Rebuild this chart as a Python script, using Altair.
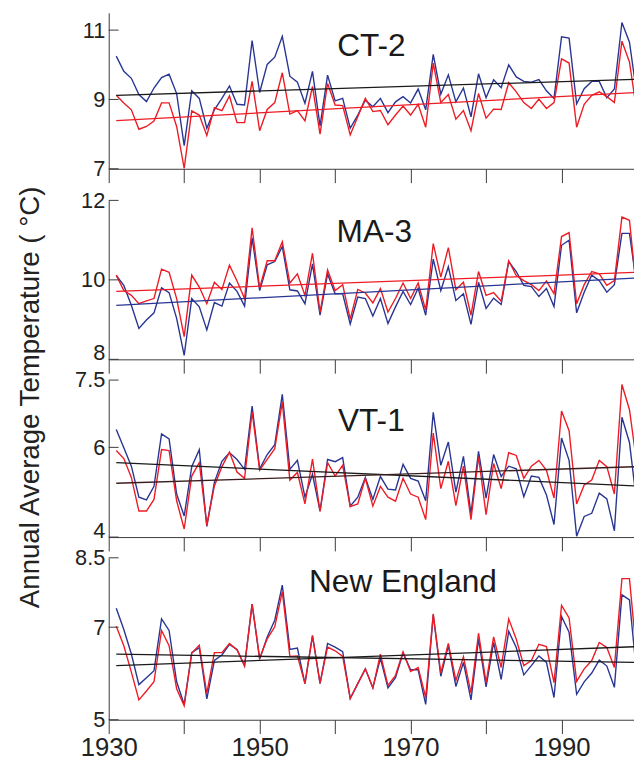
import altair as alt
import pandas as pd

years = list(range(1931, 2001))

ct2_blue = [10.25, 9.81, 9.61, 9.14, 8.94, 9.33, 9.63, 9.73, 9.17, 7.67,
            9.25, 9.03, 8.17, 8.70, 9.03, 9.39, 8.86, 8.84, 10.70, 9.20,
            10.01, 10.22, 10.82, 9.67, 9.50, 8.89, 9.81, 8.24, 9.70, 8.96,
            9.03, 8.17, 8.55, 8.98, 8.79, 9.03, 8.62, 8.93, 9.08, 8.90,
            9.30, 8.70, 10.30, 9.15, 9.71, 8.93, 9.33, 8.50, 9.74, 9.05,
            9.57, 9.34, 10.00, 9.65, 9.52, 9.50, 9.57, 9.25, 9.03, 10.81,
            10.77, 8.87, 9.31, 9.52, 9.52, 9.05, 9.30, 11.22, 10.65, 9.1]
ct2_red = [9.12, 8.90, 8.70, 8.14, 8.22, 8.38, 8.90, 8.90, 8.22, 7.01,
           8.67, 8.55, 7.96, 8.76, 8.68, 9.10, 8.33, 8.33, 9.52, 8.10,
           8.71, 8.91, 9.77, 8.58, 8.68, 8.38, 9.38, 8.00, 9.46, 8.84,
           8.82, 7.98, 8.50, 9.03, 8.65, 8.68, 8.27, 8.55, 8.81, 8.55,
           8.86, 8.20, 10.05, 8.91, 9.14, 8.43, 8.68, 8.10, 9.17, 8.46,
           8.72, 8.71, 9.48, 9.22, 8.91, 8.74, 9.01, 8.74, 8.91, 10.17,
           10.05, 8.20, 8.86, 9.12, 9.22, 9.08, 8.91, 10.68, 10.08, 8.6]

ma3_blue = [10.11, 9.86, 9.36, 8.78, 8.99, 9.17, 9.80, 9.68, 9.03, 8.10,
            9.53, 9.32, 8.74, 9.43, 9.34, 9.92, 9.71, 9.34, 11.06, 9.73,
            10.38, 10.46, 10.84, 9.75, 9.72, 9.40, 10.40, 9.11, 10.15, 9.65,
            9.65, 8.89, 9.57, 9.53, 9.09, 9.53, 8.90, 9.32, 9.71, 9.38,
            9.79, 9.11, 10.52, 9.73, 10.33, 9.48, 9.65, 8.88, 9.94, 9.28,
            9.54, 9.38, 10.46, 10.21, 9.86, 9.83, 9.58, 9.78, 9.33, 10.87,
            11.00, 9.17, 9.69, 10.12, 9.98, 9.69, 9.88, 11.17, 11.17, 9.8]
ma3_red = [10.12, 9.73, 9.61, 9.40, 9.47, 9.53, 10.27, 10.19, 9.53, 8.57,
           10.12, 9.82, 9.40, 9.94, 9.76, 10.37, 9.97, 9.53, 11.31, 9.80,
           10.48, 10.48, 10.96, 9.92, 10.15, 9.61, 10.67, 9.19, 10.25, 9.73,
           9.88, 9.01, 9.76, 9.67, 9.42, 9.78, 9.19, 9.53, 9.92, 9.53,
           9.92, 9.24, 10.91, 10.07, 10.81, 9.75, 9.94, 9.11, 10.21, 9.61,
           9.68, 9.46, 10.48, 10.11, 9.98, 9.88, 9.73, 9.97, 9.65, 11.09,
           11.19, 9.40, 9.88, 10.21, 10.15, 9.86, 9.98, 11.58, 11.50, 9.6]

vt1_blue = [6.40, 5.99, 5.58, 4.89, 4.83, 5.13, 6.30, 6.19, 4.96, 4.47,
            5.57, 5.95, 4.24, 5.22, 5.69, 5.88, 5.73, 5.51, 6.92, 5.52,
            5.84, 6.06, 7.18, 5.51, 5.71, 4.89, 5.40, 4.58, 5.73, 5.68,
            5.77, 4.69, 4.89, 5.33, 4.84, 5.35, 5.07, 5.05, 5.62, 5.31,
            5.25, 4.81, 6.78, 5.60, 6.12, 5.00, 5.80, 4.52, 5.91, 4.87,
            5.84, 5.35, 5.58, 5.52, 4.90, 5.36, 5.33, 4.94, 4.28, 6.21,
            5.71, 4.02, 4.46, 4.53, 4.98, 4.85, 4.14, 6.67, 6.11, 4.7]
vt1_red = [5.93, 5.75, 5.33, 4.58, 4.58, 4.84, 5.95, 5.93, 4.81, 4.18,
           5.36, 5.66, 4.26, 5.14, 5.57, 5.89, 5.45, 5.31, 6.79, 5.49,
           5.73, 5.97, 7.01, 5.27, 5.44, 4.74, 5.74, 4.57, 5.66, 5.36,
           5.60, 4.68, 4.74, 5.31, 4.69, 5.13, 4.89, 4.80, 5.31, 4.96,
           4.89, 4.39, 6.32, 5.08, 5.69, 4.70, 5.58, 4.39, 5.79, 4.50,
           5.64, 5.08, 5.88, 5.82, 5.31, 5.58, 5.71, 5.49, 4.87, 6.81,
           6.37, 4.74, 5.16, 5.27, 5.71, 5.57, 4.96, 7.40, 6.84, 5.6]

ne_blue = [7.41, 6.95, 6.42, 5.76, 5.91, 6.06, 7.18, 6.93, 5.82, 5.33,
           6.45, 6.56, 5.45, 6.28, 6.40, 6.63, 6.52, 6.16, 7.50, 6.31,
           6.79, 7.15, 7.91, 6.52, 6.55, 5.78, 6.82, 5.78, 6.65, 6.57,
           6.47, 5.46, 5.78, 6.10, 5.69, 6.33, 5.69, 5.91, 6.44, 6.08,
           6.08, 5.33, 7.27, 5.94, 6.60, 5.72, 6.24, 5.43, 6.74, 5.71,
           6.67, 5.87, 6.91, 6.56, 5.97, 6.17, 6.38, 6.24, 5.48, 7.23,
           6.89, 5.55, 5.82, 6.01, 6.29, 6.16, 5.70, 7.70, 7.59, 5.9]
ne_red = [7.02, 6.60, 6.03, 5.43, 5.62, 5.82, 6.93, 6.60, 5.67, 5.30,
          6.44, 6.61, 5.57, 6.45, 6.45, 6.65, 6.51, 6.17, 7.50, 6.33,
          6.75, 7.01, 7.77, 6.37, 6.38, 5.78, 6.82, 5.79, 6.57, 6.49,
          6.37, 5.46, 5.78, 6.10, 5.69, 6.42, 5.74, 5.96, 6.47, 6.04,
          6.13, 5.48, 7.29, 6.01, 6.65, 5.85, 6.36, 5.58, 6.87, 5.80,
          6.79, 6.13, 7.18, 6.74, 6.17, 6.28, 6.63, 6.58, 5.80, 7.47,
          7.20, 5.83, 6.10, 6.28, 6.67, 6.56, 6.13, 8.05, 8.05, 6.3]

trend_years = [1931, 2000]
ct2_trend_blue = [9.12, 9.58]
ct2_trend_red = [8.39, 9.20]
ma3_trend_blue = [9.36, 10.05]
ma3_trend_red = [9.71, 10.19]
vt1_trend_blue = [5.66, 5.14]
vt1_trend_red = [5.20, 5.57]
ne_trend_blue = [6.42, 6.24]
ne_trend_red = [6.17, 6.58]

x_ticks = [1930, 1940, 1950, 1960, 1970, 1980, 1990]
ct2_yticks = [7, 9, 11]
ma3_yticks = [8, 10, 12]
vt1_yticks = [4, 6, 7.5]
ne_yticks = [5, 7, 8.5]

BLUE = "#283593"
RED = "#ed1c24"
BLACK = "#1a1a1a"
BROWN = "#3b1c1c"
AXC = "#3a3a3a"
FONT = "Liberation Sans"
TITLE = "Annual Average Temperature ( \u00b0C)"


def panel(name, blue, red, tblue, tred, tcolors, ydom, yticks, height,
          lx, ly, xlabels, raise_bottom=False, ytitle=None):
    rows = []
    for yr, v in zip(years, blue):
        rows.append({"year": yr, "temp": v, "kind": "blue"})
    for yr, v in zip(years, red):
        rows.append({"year": yr, "temp": v, "kind": "red"})
    for yr, v in zip(trend_years, tblue):
        rows.append({"year": yr, "temp": v, "kind": "tblue"})
    for yr, v in zip(trend_years, tred):
        rows.append({"year": yr, "temp": v, "kind": "tred"})
    for v in yticks:
        rows.append({"year": 1930, "temp": v, "kind": "tick"})
    df = pd.DataFrame(rows)

    xaxis = dict(values=x_ticks, tickSize=14, tickColor=AXC, domainColor=AXC,
                 grid=False, title=None, labels=xlabels, format="d",
                 labelFlush=False, labelFont=FONT, labelFontSize=26,
                 labelColor="#222222", labelPadding=1,
                 labelExpr="datum.value % 20 == 10 ? datum.label : ''")
    yaxis = dict(values=yticks, format=".1~f", tickSize=0, domainColor=AXC,
                 grid=False, labelFont=FONT, labelFontSize=22,
                 labelColor="#222222", labelPadding=4, labelFlush=False,
                 labelOverlap=False, title=None)
    if raise_bottom:
        yaxis["labelBaseline"] = {"condition": {"test": f"datum.value == {ydom[0]}",
                                                "value": "alphabetic"},
                                  "value": "middle"}
    if ytitle:
        yaxis.update(title=ytitle, titleFont=FONT,
                     titleFontSize=28, titleFontWeight="normal",
                     titleColor="#222222", titleAngle=270, titleAlign="center",
                     titleBaseline="alphabetic", titleX=-71, titleY=199)

    base = alt.Chart(df).encode(
        x=alt.X("year:Q", scale=alt.Scale(domain=[1930, 1999.6], nice=False, zero=False),
                axis=alt.Axis(**xaxis)),
        y=alt.Y("temp:Q", scale=alt.Scale(domain=ydom, nice=False, zero=False),
                axis=alt.Axis(**yaxis)),
    )
    lb = base.transform_filter("datum.kind == 'blue'").mark_line(
        color=BLUE, strokeWidth=1.4, clip=True)
    lr = base.transform_filter("datum.kind == 'red'").mark_line(
        color=RED, strokeWidth=1.4, clip=True)
    tb = base.transform_filter("datum.kind == 'tblue'").mark_line(
        color=tcolors[0], strokeWidth=1.3, clip=True)
    tr = base.transform_filter("datum.kind == 'tred'").mark_line(
        color=tcolors[1], strokeWidth=1.3, clip=True)
    ticks = base.transform_filter("datum.kind == 'tick'").mark_rule(
        color=AXC, strokeWidth=1).encode(x=alt.value(0), x2=alt.value(10))
    label = alt.Chart(pd.DataFrame({"name": [name]})).mark_text(
        font=FONT, fontSize=32, color="#1a1a1a", align="center",
        baseline="alphabetic").encode(text="name:N", x=alt.value(lx), y=alt.value(ly))
    return alt.layer(lb, lr, tb, tr, ticks, label).properties(width=532, height=height)


p1 = panel("CT-2", ct2_blue, ct2_red, ct2_trend_blue, ct2_trend_red, [BLACK, RED],
           [7, 11.5], ct2_yticks, 158, 266, 44, False)
p2 = panel("MA-3", ma3_blue, ma3_red, ma3_trend_blue, ma3_trend_red, [BLUE, RED],
           [8, 12], ma3_yticks, 161, 269, 42, False, raise_bottom=True, ytitle=TITLE)
p3 = panel("VT-1", vt1_blue, vt1_red, vt1_trend_blue, vt1_trend_red, [BLACK, BROWN],
           [4, 7.5], vt1_yticks, 159, 266, 52, False, raise_bottom=True)
p4 = panel("New England", ne_blue, ne_red, ne_trend_blue, ne_trend_red, [BLACK, BLACK],
           [5, 8.5], ne_yticks, 164, 298, 35, True)

inner = alt.vconcat(p2, p3, p4, spacing=21, bounds="flush")
chart = alt.vconcat(p1, inner, spacing=32, bounds="flush").properties(
    padding={"left": 8, "top": 0, "right": 0, "bottom": 0},
    background="white",
).configure_view(stroke=None)

chart.save("out.html", embed_options={"renderer": "svg", "actions": False})
